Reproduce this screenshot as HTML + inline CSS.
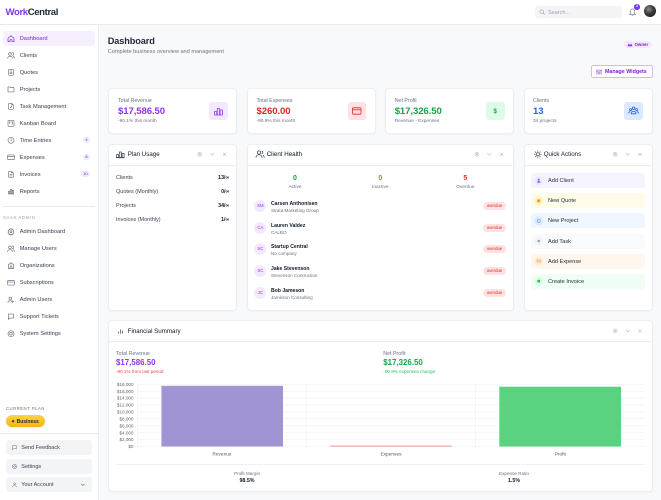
<!DOCTYPE html>
<html><head><meta charset="utf-8"><style>
*{margin:0;padding:0;box-sizing:border-box}
html,body{width:661px;height:500px;overflow:hidden}
body{background:#f8f9fb;font-family:"Liberation Sans",Arial,sans-serif;color:#111827;position:relative}
.t{position:absolute;white-space:nowrap;line-height:10px;height:10px;margin-top:0.6px}
.b{position:absolute}
.card{position:absolute;background:#fff;border:0.6px solid #eceef1;border-radius:4px;box-shadow:0 0.5px 1.5px rgba(16,24,40,0.05)}
.nav{font-size:5.7px;color:#374151;left:19.7px}
.r{transform:translateX(-100%)}
.c{transform:translateX(-50%)}
.lbl{font-size:5.3px;color:#6b7280}
.val{font-size:9.6px;font-weight:bold;letter-spacing:-0.1px}
.sub{font-size:4.8px;color:#6b7280}
.wt{font-size:6.2px;color:#111827}
.pu{font-size:5.5px;color:#374151}
.pv{font-size:5.3px;font-weight:bold;color:#111827}
.nm{font-size:5.1px;font-weight:bold;color:#111827}
.co{font-size:4.6px;color:#6b7280}
.od{position:absolute;left:482.7px;width:23.6px;height:8px;border-radius:4px;background:#fee2e2;color:#dc2626;font-size:4.3px;line-height:8px;text-align:center}
.av{position:absolute;left:254.2px;width:12.3px;height:12.3px;border-radius:50%;background:#f3e8ff;color:#9333ea;font-size:4.3px;line-height:12.3px;text-align:center}
.qa{position:absolute;left:531px;width:114px;height:15px;border-radius:3px}
.qt{font-size:5.6px;color:#1f2937;left:548px}
.bx{position:absolute;left:6px;width:86px;height:15px;border-radius:3px;background:#f3f4f6}
.bt{font-size:5.5px;color:#374151;left:21.3px}
</style></head><body>

<!-- header & sidebar -->
<div class="b" style="left:0;top:0;width:661px;height:24.6px;background:#fff;border-bottom:0.6px solid #e8eaed"></div>
<div class="b" style="left:0;top:24.6px;width:98.6px;height:476px;background:#fff;border-right:0.6px solid #e8eaed"></div>

<div class="t" style="left:5.5px;top:7.6px;font-size:9.6px;font-weight:bold;letter-spacing:-0.4px"><span style="color:#7c3aed">Work</span><span style="color:#1f2937">Central</span></div>

<div class="b" style="left:535px;top:6px;width:87px;height:12.3px;border-radius:3px;background:#f3f4f6"></div>
<div class="t" style="left:548px;top:7.2px;font-size:5.5px;color:#9ca3af">Search...</div>
<div class="b" style="left:644px;top:5.3px;width:12px;height:12px;border-radius:50%;background:radial-gradient(circle at 40% 35%,#8a8a8a 0,#3a3a3a 45%,#111 100%)"></div>
<div class="b" style="left:634.2px;top:4px;width:5.6px;height:5.6px;border-radius:50%;background:#7c3aed;color:#fff;font-size:3.6px;line-height:5.6px;text-align:center;font-weight:bold">2</div>

<!-- sidebar nav -->
<div class="b" style="left:3px;top:31px;width:92px;height:15px;border-radius:3px;background:#f5effe"></div>
<div class="t nav" style="top:33.7px;color:#7e22ce">Dashboard</div>
<div class="t nav" style="top:50.3px">Clients</div>
<div class="t nav" style="top:67.3px">Quotes</div>
<div class="t nav" style="top:84.3px">Projects</div>
<div class="t nav" style="top:101.3px">Task Management</div>
<div class="t nav" style="top:118.3px">Kanban Board</div>
<div class="t nav" style="top:135.3px">Time Entries</div>
<div class="t nav" style="top:152.3px">Expenses</div>
<div class="t nav" style="top:169.3px">Invoices</div>
<div class="t nav" style="top:186.3px">Reports</div>
<div class="b" style="left:82.7px;top:137.3px;width:7.5px;height:6px;border-radius:3px;background:#f3e8ff;color:#7e22ce;font-size:4px;line-height:6px;text-align:center">4</div>
<div class="b" style="left:82.7px;top:154.3px;width:7.5px;height:6px;border-radius:3px;background:#f3e8ff;color:#7e22ce;font-size:4px;line-height:6px;text-align:center">8</div>
<div class="b" style="left:80.7px;top:171.3px;width:9.5px;height:6px;border-radius:3px;background:#f3e8ff;color:#7e22ce;font-size:4px;line-height:6px;text-align:center">10</div>

<div class="b" style="left:3px;top:205.5px;width:92px;height:0.6px;background:#e8eaed"></div>
<div class="t" style="left:3px;top:212px;font-size:4.3px;color:#9ca3af;letter-spacing:0.6px">SAAS ADMIN</div>
<div class="t nav" style="top:226.7px">Admin Dashboard</div>
<div class="t nav" style="top:243.7px">Manage Users</div>
<div class="t nav" style="top:260.7px">Organizations</div>
<div class="t nav" style="top:277.7px">Subscriptions</div>
<div class="t nav" style="top:294.7px">Admin Users</div>
<div class="t nav" style="top:311.7px">Support Tickets</div>
<div class="t nav" style="top:328.7px">System Settings</div>

<div class="t" style="left:6px;top:403.7px;font-size:4.3px;color:#6b7280;letter-spacing:0.45px">CURRENT PLAN</div>
<div class="b" style="left:6px;top:415px;width:39px;height:12.3px;border-radius:6px;background:linear-gradient(180deg,#fcd34d,#f5b50b);box-shadow:0 0.5px 1px rgba(0,0,0,0.1)"></div>
<div class="t" style="left:11px;top:416.2px;font-size:5px;font-weight:bold;color:#1f2937">✦ Business</div>
<div class="b" style="left:0;top:432.8px;width:98px;height:0.6px;background:#e8eaed"></div>
<div class="bx" style="top:440px"></div>
<div class="bx" style="top:459px"></div>
<div class="bx" style="top:477.3px"></div>
<div class="t bt" style="top:442.7px">Send Feedback</div>
<div class="t bt" style="top:461.5px">Settings</div>
<div class="t bt" style="top:479.8px">Your Account</div>

<!-- page header -->
<div class="t" style="left:107.7px;top:35.4px;font-size:9.2px;font-weight:bold;color:#1f2937;letter-spacing:-0.1px">Dashboard</div>
<div class="t" style="left:107.7px;top:46.7px;font-size:5.6px;color:#6b7280">Complete business overview and management</div>
<div class="b" style="left:624px;top:41px;width:28.3px;height:7.3px;border-radius:4px;background:#f3e8ff"></div>
<div class="t" style="left:634.5px;top:39.7px;font-size:4.4px;color:#7e22ce;font-weight:bold">Owner</div>
<div class="b" style="left:591px;top:65px;width:61.7px;height:12.7px;border-radius:2.5px;background:#fff;border:0.7px solid #d8b4fe"></div>
<div class="t" style="left:605px;top:66.8px;font-size:5.3px;font-weight:bold;color:#7e22ce">Manage Widgets</div>

<!-- stat cards -->
<div class="card" style="left:108px;top:87.7px;width:129px;height:46.3px"></div>
<div class="card" style="left:246.5px;top:87.7px;width:129px;height:46.3px"></div>
<div class="card" style="left:384.5px;top:87.7px;width:129.5px;height:46.3px"></div>
<div class="card" style="left:523.5px;top:87.7px;width:129px;height:46.3px"></div>

<div class="t lbl" style="left:118px;top:95.7px">Total Revenue</div>
<div class="t val" style="left:118px;top:106px;color:#9333ea">$17,586.50</div>
<div class="t sub" style="left:118px;top:116.5px">-90.1% this month</div>
<div class="b" style="left:209px;top:101.7px;width:18.5px;height:18.5px;border-radius:3px;background:#f3e8ff"></div>

<div class="t lbl" style="left:256.5px;top:95.7px">Total Expenses</div>
<div class="t val" style="left:256.5px;top:106px;color:#dc2626">$260.00</div>
<div class="t sub" style="left:256.5px;top:116.5px">-90.9% this month</div>
<div class="b" style="left:347.5px;top:101.7px;width:18.5px;height:18.5px;border-radius:3px;background:#fee2e2"></div>

<div class="t lbl" style="left:394.7px;top:95.7px">Net Profit</div>
<div class="t val" style="left:394.7px;top:106px;color:#16a34a">$17,326.50</div>
<div class="t sub" style="left:394.7px;top:116.5px">Revenue - Expenses</div>
<div class="b" style="left:486px;top:101.7px;width:18.5px;height:18.5px;border-radius:3px;background:#dcfce7"></div>
<div class="t" style="left:495.2px;top:106px;font-size:6px;font-weight:bold;color:#16a34a;transform:translateX(-50%)">$</div>

<div class="t lbl" style="left:533px;top:95.7px">Clients</div>
<div class="t val" style="left:533px;top:106px;color:#2563eb">13</div>
<div class="t sub" style="left:533px;top:116.5px">34 projects</div>
<div class="b" style="left:624.3px;top:101.7px;width:18.5px;height:18.5px;border-radius:3px;background:#dbeafe"></div>

<!-- widgets row -->
<div class="card" style="left:108px;top:144px;width:129px;height:166.7px"></div>
<div class="card" style="left:246.5px;top:144px;width:267.5px;height:166.7px"></div>
<div class="card" style="left:523.5px;top:144px;width:129px;height:166.7px"></div>
<div class="b" style="left:108.5px;top:165.4px;width:128px;height:0.6px;background:#eef0f3"></div>
<div class="b" style="left:247px;top:165.4px;width:266.5px;height:0.6px;background:#eef0f3"></div>
<div class="b" style="left:524px;top:165.4px;width:128px;height:0.6px;background:#eef0f3"></div>

<div class="t wt" style="left:127.7px;top:149.3px">Plan Usage</div>
<div class="t wt" style="left:266.7px;top:149.3px">Client Health</div>
<div class="t wt" style="left:543.7px;top:149.3px">Quick Actions</div>

<div class="t pu" style="left:116px;top:172.3px">Clients</div>
<div class="t pu" style="left:116px;top:186px">Quotes (Monthly)</div>
<div class="t pu" style="left:116px;top:200px">Projects</div>
<div class="t pu" style="left:116px;top:214px">Invoices (Monthly)</div>
<div class="t pv r" style="left:229.3px;top:172.3px">13/∞</div>
<div class="t pv r" style="left:229.3px;top:186px">0/∞</div>
<div class="t pv r" style="left:229.3px;top:200px">34/∞</div>
<div class="t pv r" style="left:229.3px;top:214px">1/∞</div>

<div class="t c" style="left:295px;top:173.3px;font-size:7px;font-weight:bold;color:#16a34a">0</div>
<div class="t c" style="left:380.3px;top:173.3px;font-size:7px;font-weight:bold;color:#d97706">0</div>
<div class="t c" style="left:465.3px;top:173.3px;font-size:7px;font-weight:bold;color:#dc2626">5</div>
<div class="t c" style="left:295px;top:182px;font-size:4.8px;color:#6b7280">Active</div>
<div class="t c" style="left:380.3px;top:182px;font-size:4.8px;color:#6b7280">Inactive</div>
<div class="t c" style="left:465.3px;top:182px;font-size:4.8px;color:#6b7280">Overdue</div>

<div class="av" style="top:199.9px">SM</div>
<div class="t nm" style="left:271px;top:198.3px">Carsen Anthonisen</div>
<div class="t co" style="left:271px;top:205.3px">Strata Marketing Group</div>
<div class="od" style="top:202px">overdue</div>

<div class="av" style="top:221.6px">CA</div>
<div class="t nm" style="left:271px;top:220px">Lauren Valdez</div>
<div class="t co" style="left:271px;top:227px">CALBO</div>
<div class="od" style="top:223.7px">overdue</div>

<div class="av" style="top:243.2px">SC</div>
<div class="t nm" style="left:271px;top:241.6px">Startup Central</div>
<div class="t co" style="left:271px;top:248.6px">No company</div>
<div class="od" style="top:245.3px">overdue</div>

<div class="av" style="top:264.9px">SC</div>
<div class="t nm" style="left:271px;top:263.3px">Jake Stevenson</div>
<div class="t co" style="left:271px;top:270.3px">Stevenson Contruction</div>
<div class="od" style="top:267px">overdue</div>

<div class="av" style="top:286.6px">JC</div>
<div class="t nm" style="left:271px;top:285px">Bob Jameson</div>
<div class="t co" style="left:271px;top:292px">Jameson Consulting</div>
<div class="od" style="top:288.7px">overdue</div>

<div class="qa" style="top:173.3px;background:#f5f3ff"></div>
<div class="qa" style="top:193.4px;background:#fefce8"></div>
<div class="qa" style="top:213.4px;background:#eff6ff"></div>
<div class="qa" style="top:233.5px;background:#f9fafb"></div>
<div class="qa" style="top:253.5px;background:#fff7ed"></div>
<div class="qa" style="top:273.6px;background:#f0fdf4"></div>
<div class="t qt" style="top:175.8px">Add Client</div>
<div class="t qt" style="top:195.9px">New Quote</div>
<div class="t qt" style="top:215.9px">New Project</div>
<div class="t qt" style="top:236px">Add Task</div>
<div class="t qt" style="top:256px">Add Expense</div>
<div class="t qt" style="top:276.1px">Create Invoice</div>

<!-- financial summary -->
<div class="card" style="left:108px;top:320px;width:544.5px;height:171.7px"></div>
<div class="b" style="left:108.5px;top:341.4px;width:543.5px;height:0.6px;background:#eef0f3"></div>
<div class="t wt" style="left:127.7px;top:326px">Financial Summary</div>
<div class="t lbl" style="left:116px;top:348.7px">Total Revenue</div>
<div class="t" style="left:116px;top:357.7px;font-size:7.9px;font-weight:bold;color:#9333ea">$17,586.50</div>
<div class="t" style="left:116px;top:366px;font-size:4.6px;color:#ef4444">-90.1% from last period</div>
<div class="t lbl" style="left:383.3px;top:348.7px">Net Profit</div>
<div class="t" style="left:383.3px;top:357.7px;font-size:7.9px;font-weight:bold;color:#16a34a">$17,326.50</div>
<div class="t" style="left:383.3px;top:366px;font-size:4.6px;color:#22c55e">-90.9% expenses change</div>

<div class="b" style="left:116px;top:464.2px;width:529px;height:0.6px;background:#eef0f3"></div>
<div class="t c" style="left:247px;top:468.7px;font-size:4.6px;color:#6b7280">Profit Margin</div>
<div class="t c" style="left:247px;top:475.9px;font-size:5.3px;font-weight:bold;color:#111827">98.5%</div>
<div class="t c" style="left:514px;top:468.7px;font-size:4.6px;color:#6b7280">Expense Ratio</div>
<div class="t c" style="left:514px;top:475.9px;font-size:5.3px;font-weight:bold;color:#111827">1.5%</div>

<svg class="b" style="left:0;top:0" width="661" height="500" viewBox="0 0 661 500">
<!-- chart grid -->
<g stroke="#ececec" stroke-width="0.5">
<line x1="137.7" y1="446.5" x2="645" y2="446.5"/>
<line x1="137.7" y1="439.6" x2="645" y2="439.6"/>
<line x1="137.7" y1="432.7" x2="645" y2="432.7"/>
<line x1="137.7" y1="425.8" x2="645" y2="425.8"/>
<line x1="137.7" y1="418.8" x2="645" y2="418.8"/>
<line x1="137.7" y1="411.9" x2="645" y2="411.9"/>
<line x1="137.7" y1="405.0" x2="645" y2="405.0"/>
<line x1="137.7" y1="398.1" x2="645" y2="398.1"/>
<line x1="137.7" y1="391.2" x2="645" y2="391.2"/>
<line x1="137.7" y1="384.3" x2="645" y2="384.3"/>
<line x1="137.7" y1="384.3" x2="137.7" y2="449.5"/>
<line x1="306.7" y1="384.3" x2="306.7" y2="449.5"/>
<line x1="475.7" y1="384.3" x2="475.7" y2="449.5"/>
<line x1="134.5" y1="446.5" x2="137.7" y2="446.5"/>
</g>
<g font-family="Liberation Sans, Arial, sans-serif" font-size="4.6" fill="#666" text-anchor="end">
<text x="133.5" y="448.1">$0</text>
<text x="133.5" y="441.2">$2,000</text>
<text x="133.5" y="434.3">$4,000</text>
<text x="133.5" y="427.4">$6,000</text>
<text x="133.5" y="420.4">$8,000</text>
<text x="133.5" y="413.5">$10,000</text>
<text x="133.5" y="406.6">$12,000</text>
<text x="133.5" y="399.7">$14,000</text>
<text x="133.5" y="392.8">$16,000</text>
<text x="133.5" y="385.9">$18,000</text>
</g>
<rect x="161.3" y="385.8" width="121.7" height="60.7" fill="#a293d4"/>
<rect x="161.3" y="385.8" width="0.7" height="60.7" fill="#c4bbe6"/>
<rect x="330" y="445.6" width="121.7" height="0.9" fill="#f08a8a"/>
<rect x="499.3" y="386.7" width="121.7" height="59.8" fill="#5bd27f"/>
<g font-family="Liberation Sans, Arial, sans-serif" font-size="4.8" fill="#555" text-anchor="middle">
<text x="222" y="455.7">Revenue</text>
<text x="391" y="455.7">Expenses</text>
<text x="560.3" y="455.7">Profit</text>
</g>

<!-- widget controls -->
<g fill="none" stroke="#b3b8c0" stroke-width="0.6" stroke-linecap="round">
<circle cx="199.7" cy="154.3" r="1.9"/><circle cx="199.7" cy="154.3" r="0.7"/>
<polyline points="210.5,153.4 212.3,155.2 214.1,153.4"/>
<path d="M223.3 152.9l2.8 2.8M226.1 152.9l-2.8 2.8"/>
<circle cx="477" cy="154.3" r="1.9"/><circle cx="477" cy="154.3" r="0.7"/>
<polyline points="487.5,153.4 489.3,155.2 491.1,153.4"/>
<path d="M500.3 152.9l2.8 2.8M503.1 152.9l-2.8 2.8"/>
<circle cx="615.3" cy="154.3" r="1.9"/><circle cx="615.3" cy="154.3" r="0.7"/>
<polyline points="625.9,153.4 627.7,155.2 629.5,153.4"/>
<path d="M638.6 152.9l2.8 2.8M641.4 152.9l-2.8 2.8"/>
<circle cx="615.3" cy="331" r="1.9"/><circle cx="615.3" cy="331" r="0.7"/>
<polyline points="625.9,330.1 627.7,331.9 629.5,330.1"/>
<path d="M638.6 329.6l2.8 2.8M641.4 329.6l-2.8 2.8"/>
</g>

<!-- widget header icons -->
<g fill="none" stroke="#374151" stroke-width="0.7" stroke-linejoin="round">
<path d="M116.5 157.5v-3h2v3zM119.3 157.5v-5.5h2v5.5zM122.1 157.5v-4.2h2v4.2zM116 157.8h8.5"/>
<circle cx="259" cy="152.5" r="1.6"/><path d="M256 157.8c0-2 1.3-3 3-3s3 1 3 3M261.8 151a1.6 1.6 0 0 1 0 3M263 155.2c0.8 0.4 1.2 1.3 1.2 2.6"/>
<circle cx="537.8" cy="154.3" r="1.6"/><path d="M537.8 150.5v1.3M537.8 156.8v1.3M534 154.3h1.3M540.3 154.3h1.3M535.1 151.6l.9.9M539.6 156.1l.9.9M535.1 157l.9-.9M539.6 152.5l.9-.9"/>
<path d="M118.5 333.5v-2M120.5 333.5v-4M122.5 333.5v-3"/>
</g>

<!-- stat icons -->
<g fill="none" stroke-width="0.8" stroke-linejoin="round">
<path stroke="#9333ea" d="M214.5 115v-3.5h2.3v3.5zM217.3 115v-6.5h2.3v6.5zM220.1 115v-5h2.3v5z"/>
<rect stroke="#dc2626" x="352.5" y="107.8" width="8.5" height="6.4" rx="0.8"/><path stroke="#dc2626" d="M352.5 109.8h8.5"/>
<g stroke="#2563eb"><circle cx="633.6" cy="108.3" r="1.3"/><circle cx="630.6" cy="109.6" r="1"/><circle cx="636.6" cy="109.6" r="1"/><path d="M631.2 113.8c0-1.6 1-2.4 2.4-2.4s2.4.8 2.4 2.4zM628.7 113.5c0-1.2.7-1.8 1.8-1.8M638.5 113.5c0-1.2-.7-1.8-1.8-1.8"/></g>
</g>

<!-- header icons -->
<g fill="none" stroke="#9ca3af" stroke-width="0.6">
<circle cx="541.8" cy="11.7" r="1.9"/><path d="M543.2 13.1l1.4 1.4"/>
</g>
<path d="M629.6 14.6h5.8l-.8-1v-2.6a2.1 2.1 0 0 0-4.2 0v2.6zM631.8 15.4a0.8 0.8 0 0 0 1.4 0" fill="none" stroke="#6b7280" stroke-width="0.6"/>
<path d="M627.5 46.2l1.2-2.6 1.3 1.4 1.3-1.4 1.2 2.6z" fill="#9333ea"/>
<g stroke="#7e22ce" stroke-width="0.6" fill="none"><path d="M597 69.5v5M599 69.5v5M601 69.5v5"/><path d="M596.2 71h1.6M598.2 73h1.6M600.2 70.5h1.6"/></g>

<!-- quick action icons -->
<circle cx="538.7" cy="180.8" r="4.5" fill="#ede9fe"/><circle cx="538.7" cy="179.8" r="1" fill="#8b5cf6"/><path d="M537 182.8c0-1.3.8-1.8 1.7-1.8s1.7.5 1.7 1.8z" fill="#8b5cf6"/>
<circle cx="538.7" cy="200.9" r="4.5" fill="#fef3c7"/><circle cx="538.7" cy="200.9" r="1.6" fill="#f59e0b"/>
<circle cx="538.7" cy="220.9" r="4.5" fill="#dbeafe"/><circle cx="538.7" cy="220.9" r="1.5" fill="none" stroke="#60a5fa" stroke-width="0.6"/>
<circle cx="538.7" cy="241" r="4.5" fill="#f3f4f6"/><circle cx="538.7" cy="241" r="1.3" fill="#9ca3af"/>
<circle cx="538.7" cy="261" r="4.5" fill="#ffedd5"/><rect x="537" y="260" width="3.4" height="2" fill="none" stroke="#fb923c" stroke-width="0.6"/>
<circle cx="538.7" cy="281.1" r="4.5" fill="#dcfce7"/><circle cx="538.7" cy="281.1" r="1.5" fill="#22c55e"/>

<!-- sidebar icons -->
<g fill="none" stroke="#6b7280" stroke-width="2" stroke-linecap="round" stroke-linejoin="round">
<g transform="translate(7 34.7) scale(.333)" stroke="#7e22ce"><path d="M3 10.5L12 3l9 7.5V20a1 1 0 0 1-1 1h-5v-6h-6v6H4a1 1 0 0 1-1-1z"/></g>
<g transform="translate(7 51.3) scale(.333)"><circle cx="9" cy="8" r="4"/><path d="M2 21c0-3.5 3-6 7-6s7 2.5 7 6M16 4a4 4 0 0 1 0 8M19 15c2 .8 3 3 3 6"/></g>
<g transform="translate(7 68.3) scale(.333)"><rect x="5" y="3" width="14" height="18" rx="2"/><path d="M9 8h6M9 12h6M9 16h6"/></g>
<g transform="translate(7 85.3) scale(.333)"><path d="M3 6a1 1 0 0 1 1-1h5l2 2h9a1 1 0 0 1 1 1v11a1 1 0 0 1-1 1H4a1 1 0 0 1-1-1z"/></g>
<g transform="translate(7 102.3) scale(.333)"><path d="M14 3H6a1 1 0 0 0-1 1v16a1 1 0 0 0 1 1h12a1 1 0 0 0 1-1V8zM14 3v5h5M9 14l2 2 4-4"/></g>
<g transform="translate(7 119.3) scale(.333)"><rect x="3" y="3" width="18" height="18" rx="2"/><path d="M8 7v6M12 7v3M16 7v8"/></g>
<g transform="translate(7 136.3) scale(.333)"><circle cx="12" cy="12" r="9"/><path d="M12 7v5l3 2"/></g>
<g transform="translate(7 153.3) scale(.333)"><rect x="2" y="5" width="20" height="14" rx="2"/><path d="M2 10h20"/></g>
<g transform="translate(7 170.3) scale(.333)"><path d="M14 3H6a1 1 0 0 0-1 1v16a1 1 0 0 0 1 1h12a1 1 0 0 0 1-1V8zM14 3v5h5M9 13h6M9 17h6"/></g>
<g transform="translate(7 187.3) scale(.333)"><path d="M4 20v-8h4v8zM10 20V6h4v14zM16 20V9h4v11z"/></g>
<g transform="translate(7 227.7) scale(.333)"><circle cx="12" cy="12" r="3"/><path d="M12 2l2 3 3.5-1 .5 3.5 3 2-2 3 2 3-3 2-.5 3.5-3.5-1-2 3-2-3-3.5 1-.5-3.5-3-2 2-3-2-3 3-2 .5-3.5 3.5 1z"/></g>
<g transform="translate(7 244.7) scale(.333)"><circle cx="9" cy="8" r="4"/><path d="M2 21c0-3.5 3-6 7-6s7 2.5 7 6M16 4a4 4 0 0 1 0 8M19 15c2 .8 3 3 3 6"/></g>
<g transform="translate(7 261.7) scale(.333)"><path d="M4 21V9l8-6 8 6v12zM9 21v-6h6v6M10 10h4"/></g>
<g transform="translate(7 278.7) scale(.333)"><rect x="2" y="5" width="20" height="14" rx="2"/><path d="M2 10h20"/></g>
<g transform="translate(7 295.7) scale(.333)"><circle cx="10" cy="8" r="4"/><path d="M3 21c0-4 3-6 7-6 1.5 0 2.8.3 3.8.9M17 15v6M14 18h6"/></g>
<g transform="translate(7 312.7) scale(.333)"><path d="M4 4h16v12H8l-4 4z"/></g>
<g transform="translate(7 329.7) scale(.333)"><circle cx="12" cy="12" r="9"/><circle cx="12" cy="12" r="4"/></g>
<g transform="translate(11.5 444.7) scale(.25)"><path d="M4 4h16v12H8l-4 4z"/></g>
<g transform="translate(11.5 463.5) scale(.25)"><circle cx="12" cy="12" r="9"/><circle cx="12" cy="12" r="4"/></g>
<g transform="translate(11.5 481.8) scale(.25)"><circle cx="12" cy="8" r="4"/><path d="M4 21c0-4 3.5-6 8-6s8 2 8 6"/></g>
<polyline points="81.3,484 82.8,485.5 84.3,484" stroke-width="0.6"/>
</g>
</svg>
</body></html>
